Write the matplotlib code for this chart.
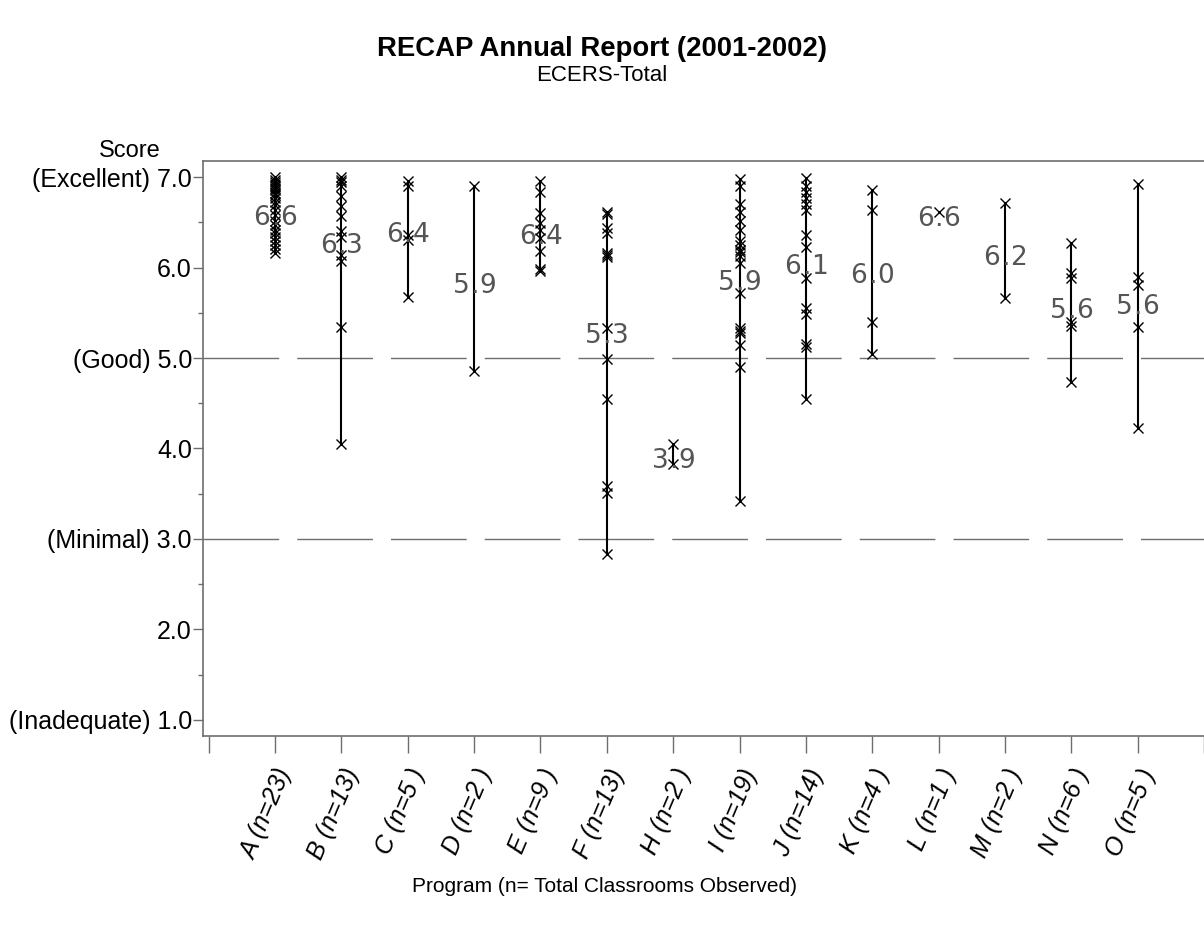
import numpy as np
import matplotlib
matplotlib.use("Agg")
import matplotlib.pyplot as plt
from matplotlib.ticker import MultipleLocator

plt.rcParams['font.family'] = ['Liberation Sans', 'DejaVu Sans']

# ECERS total score of each observed classroom, by program
programs = ['A', 'B', 'C', 'D', 'E', 'F', 'H', 'I', 'J', 'K', 'L', 'M', 'N', 'O']
a_scores = [7.00, 6.97, 6.95, 6.93, 6.90, 6.88, 6.86, 6.83, 6.80, 6.77, 6.73, 6.69,
            6.64, 6.58, 6.52, 6.47, 6.42, 6.38, 6.34, 6.29, 6.25, 6.21, 6.16]
b_scores = [7.00, 6.97, 6.95, 6.90, 6.79, 6.68, 6.57, 6.40, 6.34, 6.14, 6.07, 5.34, 4.05]
c_scores = [6.96, 6.90, 6.36, 6.31, 5.68]
d_scores = [6.90, 4.86]
e_scores = [6.96, 6.84, 6.60, 6.49, 6.42, 6.33, 6.18, 5.99, 5.96]
f_scores = [6.62, 6.59, 6.44, 6.38, 6.16, 6.14, 6.12, 5.33, 4.99, 4.55, 3.59, 3.51, 2.83]
h_scores = [4.05, 3.83]
i_scores = [6.98, 6.90, 6.70, 6.62, 6.52, 6.42, 6.30, 6.25, 6.20, 6.17, 6.13, 6.05,
            5.72, 5.33, 5.30, 5.28, 5.15, 4.90, 3.42]
j_scores = [6.99, 6.90, 6.84, 6.77, 6.70, 6.64, 6.36, 6.23, 5.88, 5.55, 5.49, 5.16, 5.12, 4.55]
k_scores = [6.86, 6.64, 5.40, 5.05]
l_scores = [6.62]
m_scores = [6.71, 5.66]
n_scores = [6.27, 5.94, 5.88, 5.40, 5.36, 4.73]
o_scores = [6.92, 5.90, 5.81, 5.34, 4.23]

all_scores = [a_scores, b_scores, c_scores, d_scores, e_scores, f_scores, h_scores,
              i_scores, j_scores, k_scores, l_scores, m_scores, n_scores, o_scores]

y_ticks = [1, 2, 3, 4, 5, 6, 7]
y_names = {1: '(Inadequate) ', 3: '(Minimal) ', 5: '(Good) ', 7: '(Excellent) '}
ref_levels = [3.0, 5.0]

fig = plt.figure(figsize=(12.04, 9.32), dpi=100)
ax = fig.add_axes([0.1686, 0.2103, 0.8314, 0.617])

grid_col = '#6e6e6e'
for lvl in ref_levels:
    ax.axhline(lvl, color=grid_col, lw=1.0, dashes=(54.5, 13), zorder=1)

for i, scores in enumerate(all_scores):
    pos = i + 1
    s = np.array(scores)
    if len(s) > 1:
        ax.plot([pos, pos], [s.min(), s.max()], color='black', lw=1.5, zorder=2)
    ax.plot(np.full(len(s), pos), s, linestyle='none', marker='x', color='black',
            markersize=7.5, markeredgewidth=1.0, zorder=3)

    # mean label, split around the decimal point so the point sits on the line
    whole, frac = f"{s.mean():.1f}".split('.')
    ty = s.mean() - 0.08
    kw = dict(textcoords='offset points', va='center', fontsize=19,
              color='#555555', family='DejaVu Sans', zorder=4)
    ax.annotate(whole, (pos, ty), xytext=(-3.5, 0), ha='right', **kw)
    ax.annotate('.', (pos, ty), xytext=(0, 0), ha='center', **kw)
    ax.annotate(frac, (pos, ty), xytext=(3.5, 0), ha='left', **kw)

ax.set_xlim(-0.086, 14.99)
ax.set_ylim(0.82, 7.18)

ax.set_yticks(y_ticks)
ax.set_yticklabels([y_names.get(v, '') + f"{v:.1f}" for v in y_ticks], fontsize=18)
ax.yaxis.set_minor_locator(MultipleLocator(0.5))
ax.tick_params(axis='y', which='major', length=7, width=1.0, color=grid_col, pad=1)
ax.tick_params(axis='y', which='minor', length=3.6, width=1.0, color=grid_col)

counts = [len(s) for s in all_scores]
x_labels = [f"{p} (n={n})" if n >= 10 else f"{p} (n={n} )" for p, n in zip(programs, counts)]
ax.set_xticks(range(0, 16))
ax.set_xticklabels([''] + x_labels + [''], fontsize=18, style='italic', rotation=67,
                   ha='right', rotation_mode='anchor')
ax.tick_params(axis='x', length=12, width=1.0, color=grid_col, pad=9)
for lab in ax.get_xticklabels():
    lab.set_verticalalignment('top')

for side in ['left', 'top', 'bottom']:
    ax.spines[side].set_color(grid_col)
    ax.spines[side].set_linewidth(1.2)
ax.spines['right'].set_visible(False)

fig.text(0.502, 0.049, 'Program (n= Total Classrooms Observed)', fontsize=15,
         ha='center', va='center')
fig.text(0.108, 0.838, 'Score', fontsize=17, ha='center', va='center')
fig.text(0.5, 0.947, 'RECAP Annual Report (2001-2002)', fontsize=19.8, fontweight='bold',
         ha='center', va='center')
fig.text(0.5, 0.919, 'ECERS-Total', fontsize=16, ha='center', va='center')

fig.savefig('out.png', dpi=100)
